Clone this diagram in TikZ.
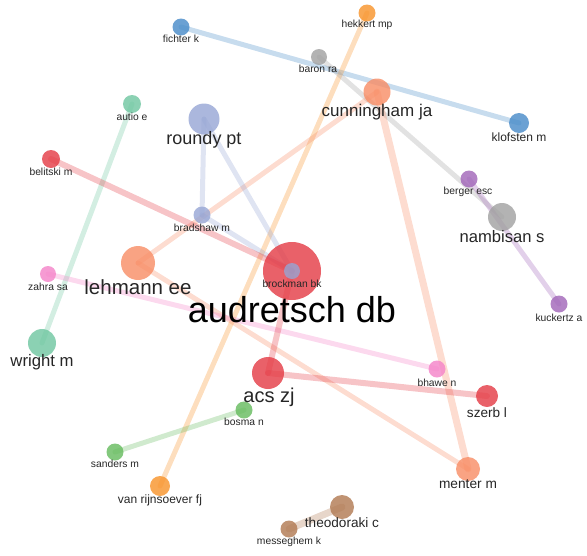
\documentclass[tikz,border=0pt]{standalone}
\usepackage{fontspec}
\setmainfont{Liberation Sans}
\usetikzlibrary{backgrounds}

\definecolor{cred}{RGB}{228,58,68}
\definecolor{cblue}{RGB}{70,138,200}
\definecolor{corange}{RGB}{248,146,40}
\definecolor{csalmon}{RGB}{248,140,100}
\definecolor{cgray}{RGB}{160,160,160}
\definecolor{cteal}{RGB}{110,198,160}
\definecolor{clav}{RGB}{150,165,212}
\definecolor{cpurple}{RGB}{160,100,184}
\definecolor{cpink}{RGB}{244,130,200}
\definecolor{cgreen}{RGB}{100,186,92}
\definecolor{cbrown}{RGB}{176,120,80}

\tikzset{
    author/.style={circle,inner sep=0pt,draw=none,fill opacity=0.8},
    authorname/.style={inner sep=0pt,text=black!85},
    link/.style={draw opacity=0.3,line cap=round},
}

\begin{document}
\begin{tikzpicture}[x=1pt,y=-1pt]
    \useasboundingbox (0,0) rectangle (587,555);
    \foreach \n/\x/\y/\r/\c in {audretsch/292/271/29/cred,brockman/292/271/8/clav,
        fichter/181/27/8.5/cblue,hekkert/367/13/8.5/corange,baron/319/57/8/cgray,
        cunningham/377/92/13.5/csalmon,klofsten/519/123/10/cblue,autio/132/104/9/cteal,
        roundy/204/119/15.5/clav,belitski/51/159/9/cred,berger/469/179/8.5/cpurple,
        nambisan/502/217/14/cgray,bradshaw/202/215/8.5/clav,lehmann/138/263/17/csalmon,
        zahra/48/274/8/cpink,kuckertz/559/304/8.5/cpurple,wright/42/343/14/cteal,
        acs/268/373/16/cred,bhawe/437/369/8.5/cpink,szerb/487/396/11/cred,
        bosma/244/410/8.5/cgreen,sanders/115/452/8.5/cgreen,menter/468/469/12/csalmon,
        rijnsoever/160/486/10/corange,theodoraki/342/507/12/cbrown,messeghem/289/529/8.5/cbrown}
        \node[author,fill=\c,minimum size=2*\r pt] (\n) at (\x,\y) {};
    \foreach \n/\x/\y/\s/\t in {fichter/181/39/10.3/fichter k,hekkert/367/25/10.3/hekkert mp,
        baron/318/69/10.3/baron ra,cunningham/377/112/17/cunningham ja,
        klofsten/519/137/12/klofsten m,autio/132/117/10.3/autio e,roundy/204/140/18/roundy pt,
        belitski/51/172/10.3/belitski m,berger/468/192/10.3/berger esc,
        nambisan/502/237/16.6/nambisan s,bradshaw/202/228/10.3/bradshaw m,
        lehmann/138/287/20.5/lehmann ee,brockman/292/284/10.3/brockman bk,
        zahra/48/287/10.3/zahra sa,kuckertz/559/318/10.3/kuckertz a,wright/42/362/16.7/wright m,
        acs/269/397/20/acs zj,bhawe/437/383/10.3/bhawe n,szerb/487/413/13.6/szerb l,
        bosma/244/422/10.3/bosma n,sanders/115/464/10.3/sanders m,menter/468/484/13.7/menter m,
        rijnsoever/160/500/12/van rijnsoever fj,theodoraki/342/523/13.6/theodoraki c,
        messeghem/289/542/10.3/messeghem k}
        \node[authorname,font=\fontsize{\s}{\s}\selectfont] (l\n) at (\x,\y) {\t};
    \node[authorname,text=black,font=\fontsize{36}{36}\selectfont] (laudretsch) at (292,310) {audretsch db};
    \begin{scope}[on background layer]
        \foreach \a/\b/\c/\w in {fichter/klofsten/cblue/5,hekkert/rijnsoever/corange/5,
            baron/nambisan/cgray/5,cunningham/menter/csalmon/7,cunningham/lehmann/csalmon/5,
            lehmann/menter/csalmon/5,autio/wright/cteal/5,roundy/bradshaw/clav/5,
            roundy/brockman/clav/5,bradshaw/brockman/clav/5,belitski/audretsch/cred/6,
            zahra/bhawe/cpink/5,audretsch/acs/cred/6,acs/szerb/cred/6,bosma/sanders/cgreen/5,
            berger/kuckertz/cpurple/5,theodoraki/messeghem/cbrown/7}
            \draw[link,draw=\c,line width=\w pt] (\a.center) -- (\b.center);
    \end{scope}
\end{tikzpicture}
\end{document}
